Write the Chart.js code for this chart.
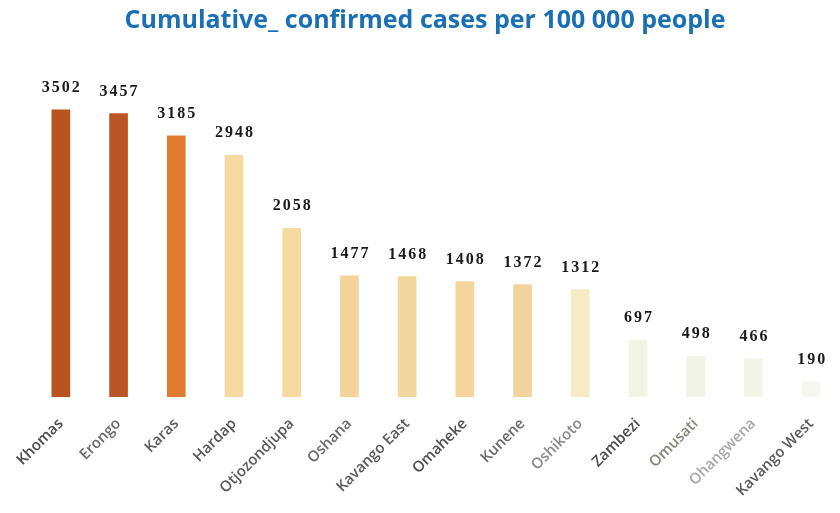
<!DOCTYPE html>
<html>
<head>
<meta charset="utf-8">
<script src="https://cdn.jsdelivr.net/npm/chart.js@4"></script>
<style>
  html, body { margin: 0; padding: 0; background: #ffffff; }
  #wrap { width: 840px; height: 513px; position: relative; }
</style>
</head>
<body>
<div id="wrap"><canvas id="grafico"></canvas></div>
<script>
// regions and values
var regioes = ['Khomas', 'Erongo', 'Karas', 'Hardap', 'Otjozondjupa', 'Oshana', 'Kavango East',
    'Omaheke', 'Kunene', 'Oshikoto', 'Zambezi', 'Omusati', 'Ohangwena', 'Kavango West'];
var casos = [3502, 3457, 3185, 2948, 2058, 1477, 1468, 1408, 1372, 1312, 697, 498, 466, 190];
var cores = ['#b9541f', '#bc5526', '#e07a30', '#f6d9a0', '#f7d9a2', '#f6d39a', '#f4d79f',
    '#f3d59d', '#f2d39b', '#f5ecc6', '#f1f5e2', '#f1f4e4', '#f3f5e8', '#f7f7f0'];
var coresTexto = ['#4a4a4a', '#6a6a6a', '#5a5a5a', '#555555', '#5a5a5a', '#6a6a6a', '#5a5a5a',
    '#4f4f4f', '#6a6a6a', '#8a8a8a', '#4a4a4a', '#808a78', '#a8a8a8', '#5a5a5a'];

// desenha os valores em cima das barras
var rotulos = {
    id: 'rotulos',
    afterDatasetsDraw: function(chart) {
        var ctx = chart.ctx;
        var meta = chart.getDatasetMeta(0);
        ctx.save();
        ctx.font = 'bold 16px "Liberation Serif"';
        ctx.letterSpacing = '2px';
        ctx.fillStyle = '#1a1a1a';
        ctx.textAlign = 'center';
        ctx.textBaseline = 'middle';
        meta.data.forEach(function(bar, i) {
            ctx.fillText(String(casos[i]), bar.x + 1, bar.y - 22);
        });
        ctx.restore();
    }
};

var ctx = document.getElementById('grafico').getContext('2d');
var myChart = new Chart(ctx, {
    type: 'bar',
    data: {
        labels: regioes,
        datasets: [{
            label: 'Cases',
            data: casos,
            backgroundColor: cores,
            barThickness: 18
        }]
    },
    options: {
        responsive: true,
        maintainAspectRatio: false,
        animation: false,
        layout: { padding: { left: 10, right: 0, top: 0, bottom: 0 } },
        plugins: {
            legend: { display: false },
            tooltip: { enabled: false },
            title: {
                display: true,
                text: 'Cumulative_ confirmed cases per 100 000 people',
                color: '#1a6fb5',
                font: { family: 'Open Sans', size: 25, weight: 'bold' },
                padding: { top: 6, bottom: 24 }
            }
        },
        scales: {
            x: {
                grid: { display: false, drawBorder: false },
                border: { display: false },
                ticks: {
                    color: coresTexto,
                    font: { family: 'Open Sans', size: 15, weight: '600' },
                    maxRotation: 45,
                    minRotation: 45,
                    padding: 10
                },
                afterFit: function(scale) {
                    scale.height = 116;
                    scale.paddingLeft = 32;
                    scale.paddingRight = 0;
                }
            },
            y: {
                display: false,
                min: 0,
                max: 4110
            }
        }
    },
    plugins: [rotulos]
});
</script>
</body>
</html>
